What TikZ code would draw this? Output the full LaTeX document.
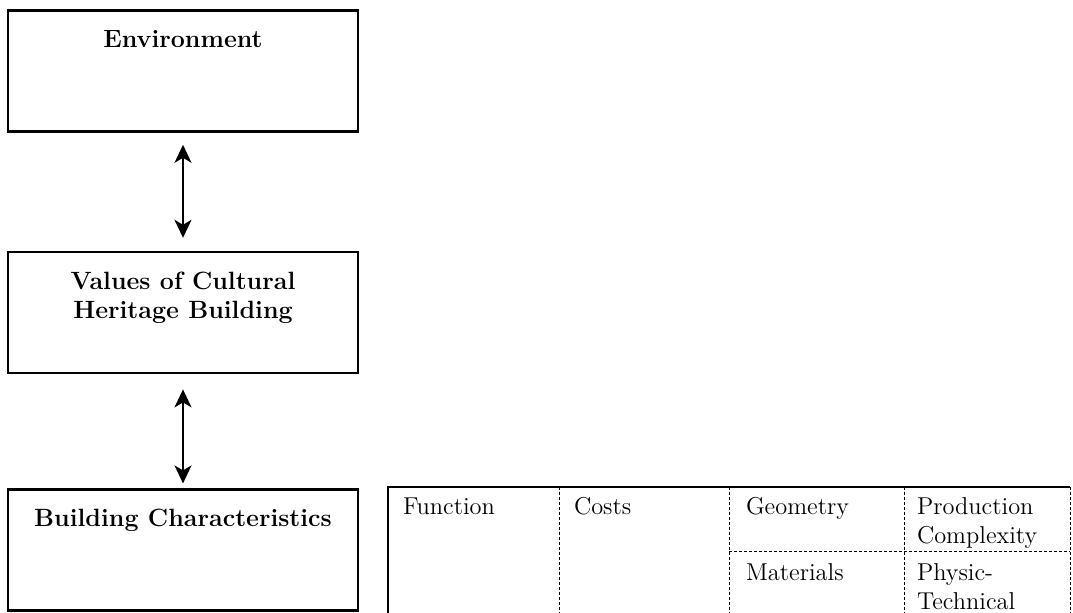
\documentclass[tikz,border=0pt]{standalone}
\usepackage{tikz}
\usetikzlibrary{positioning}
\usetikzlibrary{arrows.meta}

\tikzset{
    block/.style={rectangle, draw, line width=1.3pt, minimum width=175pt,
        minimum height=60.5pt, inner sep=0pt},
    heading/.style={anchor=north, inner sep=0pt, yshift=-10pt, align=center,
        font=\bfseries\fontsize{12.5}{14.5}\selectfont},
    cell/.style={anchor=north west, inner sep=0pt, align=left,
        font=\fontsize{12.2}{14.5}\selectfont},
    dashline/.style={line width=0.5pt, dash pattern=on 1.5pt off 1pt}
}

\begin{document}
\begin{tikzpicture}[>={Stealth[length=9pt, width=8.5pt, inset=2.5pt]},
    line width=1pt, node distance=58pt]
        \useasboundingbox (0,0) rectangle (536.5pt,-306pt);

        \node [block, label={[heading]north:Environment}] (env) at (91.5pt,-35.5pt) {};
        \node [block, below=59pt of env,
            label={[heading]north:Values of Cultural\\Heritage Building}] (val) {};
        \node [block, below=57pt of val,
            label={[heading]north:Building Characteristics}] (bld) {};

        \path (env) edge[<->, shorten <=6pt, shorten >=6.5pt] (val);
        \path (val) edge[<->, shorten <=7.5pt, shorten >=2.5pt] (bld);

        % table of characteristics
        \node [rectangle, outer sep=0pt, minimum width=341pt, minimum height=63.5pt,
            right=14.35pt of bld] (tab) {};
        \draw [line width=0.9pt] (tab.north east) -- (tab.north west)
            -- (tab.south west) -- (tab.south east);
        \draw [dashline] (tab.north east) -- (tab.south east);
        \foreach \cx in {85.5,170.5,258}
            \draw [dashline] ([xshift=\cx pt]tab.north west) -- ([xshift=\cx pt]tab.south west);
        \draw [dashline] ([xshift=170.5pt, yshift=-32.5pt]tab.north west)
            -- ([yshift=-32.5pt]tab.north east);

        \node [cell] (fn) at ([xshift=7pt, yshift=-5pt]tab.north west) {Function};
        \node [cell] (costs) at ([xshift=92.5pt, yshift=-5pt]tab.north west) {Costs};
        \node [cell] (geom) at ([xshift=178.5pt, yshift=-5pt]tab.north west) {Geometry};
        \node [cell] (prod) at ([xshift=264pt, yshift=-5pt]tab.north west) {Production\\Complexity};
        \node [cell] (mat) at ([xshift=178.5pt, yshift=-37.8pt]tab.north west) {Materials};
        \node [cell] (phys) at ([xshift=264pt, yshift=-37.8pt]tab.north west) {Physic-\\Technical};
    \end{tikzpicture}
\end{document}
